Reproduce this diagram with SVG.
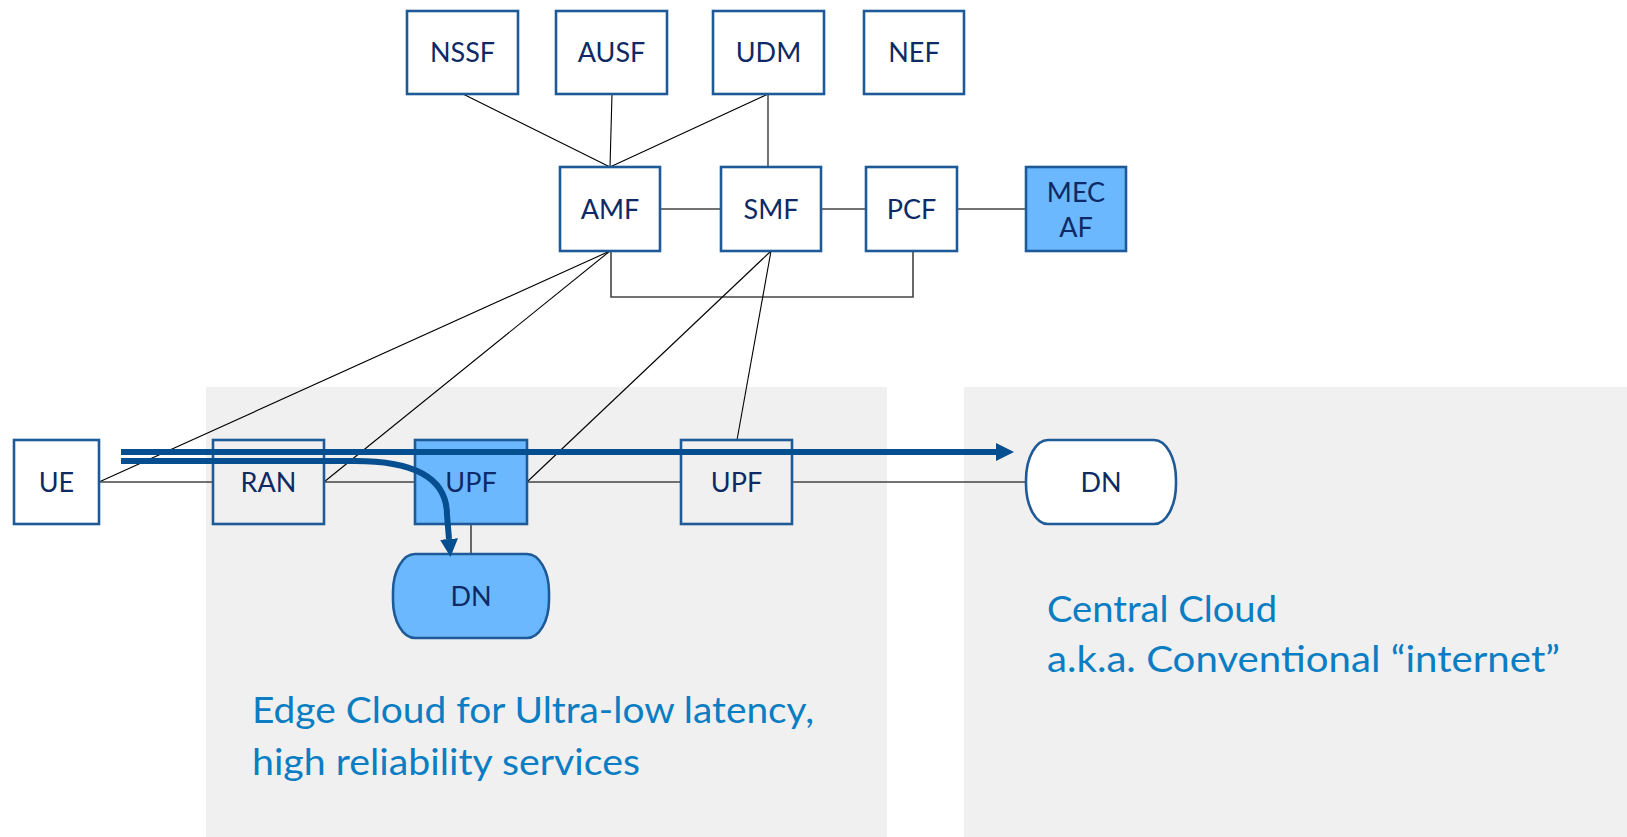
<svg xmlns="http://www.w3.org/2000/svg" width="1627" height="837" viewBox="0 0 1627 837">
<style>
.box{fill:#ffffff;stroke:#1E5A98;stroke-width:2.6}
.hl{fill:#6BB8FF}
.lbl{font-family:Lato,"Open Sans",sans-serif;font-size:27px;fill:#0E2A66;text-anchor:middle}
.thin{stroke:#000;stroke-width:1.1;fill:none}
.hz{stroke:#444;stroke-width:1.6;fill:none}
.cloud{fill:#F0F0F0}
.ctext{font-family:Lato,"Open Sans",sans-serif;font-size:36px;fill:#0B7DC3}
.flow{stroke:#054E8F;stroke-width:6;fill:none}
</style>
<defs>
<marker id="ah" markerUnits="userSpaceOnUse" markerWidth="20" markerHeight="20" refX="0" refY="9" orient="auto" viewBox="0 0 20 18">
<path d="M0,0 L18,9 L0,18 Z" fill="#054E8F"/>
</marker>
</defs>
<g id="clouds">
<rect class="cloud" x="206" y="387" width="681" height="450"/>
<rect class="cloud" x="964" y="387" width="663" height="450"/>
<text class="ctext" x="252" y="723" textLength="562" lengthAdjust="spacingAndGlyphs">Edge Cloud for Ultra-low latency,</text>
<text class="ctext" x="252" y="775" textLength="388" lengthAdjust="spacingAndGlyphs">high reliability services</text>
<text class="ctext" x="1047" y="622" textLength="230" lengthAdjust="spacingAndGlyphs">Central Cloud</text>
<text class="ctext" x="1047" y="672" textLength="513" lengthAdjust="spacingAndGlyphs">a.k.a. Conventional “internet”</text>
</g>
<g id="connectors">
<path class="thin" d="M463,94 L610,167"/>
<path class="thin" d="M612,94 L610,167"/>
<path class="thin" d="M768,94 L610,167"/>
<path class="thin" d="M768,94 L768,167"/>
<path class="hz" d="M660,209 L721,209"/>
<path class="hz" d="M821,209 L866,209"/>
<path class="hz" d="M957,209 L1026,209"/>
<path class="hz" d="M611,251 L611,297 L913,297 L913,251"/>
<path class="thin" d="M99,482 L610,251"/>
<path class="thin" d="M324,482 L610,251"/>
<path class="thin" d="M527,482 L771,251"/>
<path class="thin" d="M771,251 L737,440"/>
<path class="hz" d="M99,482 L213,482"/>
<path class="hz" d="M324,482 L415,482"/>
<path class="hz" d="M527,482 L681,482"/>
<path class="hz" d="M792,482 L1026,482"/>
<path class="hz" d="M471,524 L471,554"/>
</g>
<g id="NSSF"><rect class="box" x="407" y="11" width="111" height="83"/><text class="lbl" x="462.5" y="62">NSSF</text></g>
<g id="AUSF"><rect class="box" x="556" y="11" width="111" height="83"/><text class="lbl" x="611.5" y="62">AUSF</text></g>
<g id="UDM"><rect class="box" x="713" y="11" width="111" height="83"/><text class="lbl" x="768.5" y="62">UDM</text></g>
<g id="NEF"><rect class="box" x="864" y="11" width="100" height="83"/><text class="lbl" x="914" y="62">NEF</text></g>
<g id="AMF"><rect class="box" x="560" y="167" width="100" height="84"/><text class="lbl" x="610" y="219">AMF</text></g>
<g id="SMF"><rect class="box" x="721" y="167" width="100" height="84"/><text class="lbl" x="771" y="219">SMF</text></g>
<g id="PCF"><rect class="box" x="866" y="167" width="91" height="84"/><text class="lbl" x="911.5" y="219">PCF</text></g>
<g id="MECAF"><rect class="box hl" x="1026" y="167" width="100" height="84"/><text class="lbl" x="1076" y="202">MEC</text><text class="lbl" x="1076" y="237">AF</text></g>
<g id="UE"><rect class="box" x="14" y="440" width="85" height="84"/><text class="lbl" x="56.5" y="492">UE</text></g>
<g id="RAN"><rect class="box" x="213" y="440" width="111" height="84" style="fill:#F0F0F0"/><text class="lbl" x="268.5" y="492">RAN</text></g>
<g id="UPF1"><rect class="box hl" x="415" y="440" width="112" height="84"/><text class="lbl" x="471" y="492">UPF</text></g>
<g id="UPF2"><rect class="box" x="681" y="440" width="111" height="84" style="fill:#F0F0F0"/><text class="lbl" x="736.5" y="492">UPF</text></g>
<g id="DN-central"><rect class="box" x="1026" y="440" width="150" height="84" rx="22" ry="40"/><text class="lbl" x="1101" y="492">DN</text></g>
<g id="DN-edge"><rect class="box hl" x="393" y="554" width="156" height="84" rx="22" ry="38"/><text class="lbl" x="471" y="606">DN</text></g>
<g id="flows">
<path class="flow" d="M121,452 L996,452" marker-end="url(#ah)"/>
<path class="flow" d="M121,461 L355,461 Q447,461 447,515 L449,539" marker-end="url(#ah)"/>
</g>
</svg>
